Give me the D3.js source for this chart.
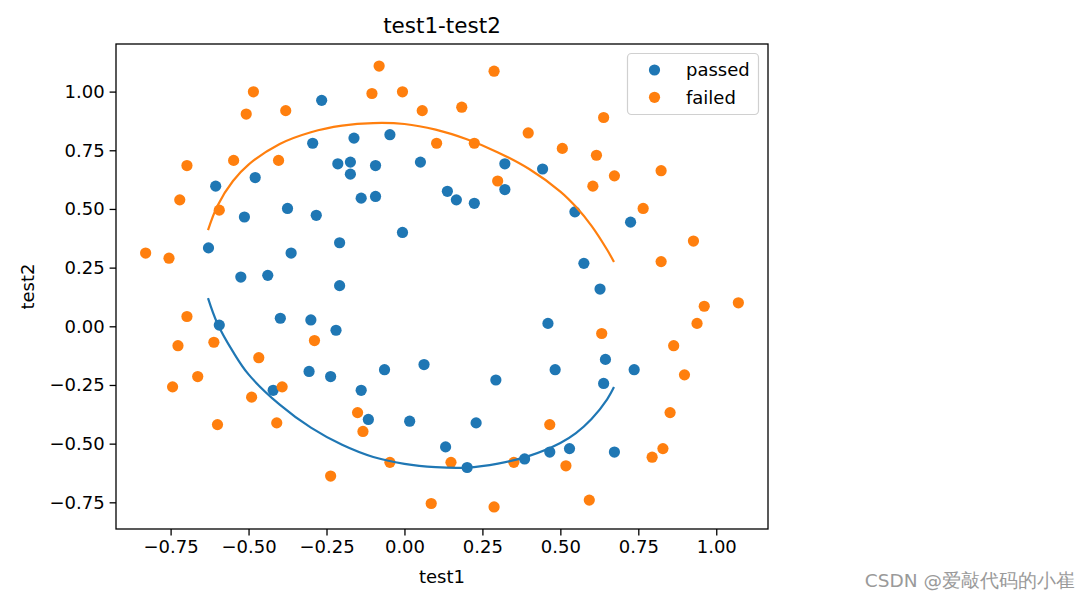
<!DOCTYPE html>
<html>
<head>
<meta charset="utf-8">
<script src="https://cdn.jsdelivr.net/npm/d3@7"></script>
<style>
  html, body { margin: 0; padding: 0; background: #fff; }
  svg { display: block; }
  text { font-family: "DejaVu Sans", sans-serif; }
</style>
</head>
<body>
<div id="chart"></div>
<script>
// ---- data (test1, test2 scores) ----
const passedX = [0.051267,-0.092742,-0.21371,-0.375,-0.51325,-0.52477,-0.39804,-0.30588,0.016705,0.13191,0.38537,0.52938,0.63882,0.73675,0.54666,0.322,0.16647,-0.046659,-0.17339,-0.47869,-0.60541,-0.62846,-0.59389,-0.42108,-0.11578,0.20104,0.46601,0.67339,-0.13882,-0.29435,-0.26555,-0.16187,-0.17339,-0.28283,-0.36348,-0.30012,-0.23675,-0.06394,0.062788,0.22984,0.2932,0.48329,0.64459,0.46025,0.6273,0.57546,0.72523,0.22408,0.44297,0.322,0.13767,-0.0063364,-0.092742,-0.20795,-0.20795,-0.43836,-0.21947,-0.13882];
const passedY = [0.69956,0.68494,0.69225,0.50219,0.46564,0.2098,0.034357,-0.19225,-0.40424,-0.51389,-0.56506,-0.5212,-0.24342,-0.18494,0.48757,0.5826,0.53874,0.81652,0.69956,0.63377,0.59722,0.33406,0.005117,-0.27266,-0.39693,-0.60161,-0.53582,-0.53582,0.54605,0.77997,0.96272,0.8019,0.64839,0.47295,0.31213,0.027047,-0.21418,-0.18494,-0.16301,-0.41155,-0.2288,-0.18494,-0.14108,0.012427,0.15863,0.26827,0.44371,0.52412,0.67032,0.69225,0.57529,0.39985,0.55336,0.35599,0.17325,0.21711,-0.016813,-0.27266];
const failedX = [0.18376,0.22408,0.29896,0.50634,0.61578,0.60426,0.76555,0.92684,0.82316,0.96141,0.93836,0.86348,0.89804,0.85196,0.82892,0.79435,0.59274,0.51786,0.46601,0.35081,0.28744,0.085829,0.14919,-0.13306,-0.40956,-0.39228,-0.74366,-0.69758,-0.75518,-0.69758,-0.4038,-0.38076,-0.50749,-0.54781,0.10311,0.057028,-0.10426,-0.081221,0.28744,0.39689,0.63882,0.82316,0.67339,1.0709,-0.046659,-0.23675,-0.15035,-0.49021,-0.46717,-0.28859,-0.61118,-0.66302,-0.59965,-0.72638,-0.83007,-0.72062,-0.59389,-0.48445,-0.0063364,0.63265];
const failedY = [0.93348,0.77997,0.61915,0.75804,0.7288,0.59722,0.50219,0.3633,0.27558,0.085526,0.012427,-0.082602,-0.20687,-0.36769,-0.5212,-0.55775,-0.7405,-0.5943,-0.41886,-0.57968,-0.76974,-0.75512,-0.57968,-0.4481,-0.41155,-0.25804,-0.25804,0.041667,0.2902,0.68494,0.70687,0.91886,0.90424,0.70687,0.77997,0.91886,0.99196,1.1089,1.087,0.82383,0.88962,0.66301,0.64108,0.10015,-0.57968,-0.63816,-0.36769,-0.3019,-0.13377,-0.060673,-0.067982,-0.21418,-0.41886,-0.082602,0.31213,0.53874,0.49488,0.99927,0.99927,-0.030612];

// boundary curves
const curveX = [-0.63,-0.6,-0.55,-0.5,-0.4,-0.3,-0.2,-0.1,0,0.1,0.2,0.3,0.4,0.5,0.55,0.6,0.65,0.672];
const upperY = [0.410,0.513,0.619,0.689,0.777,0.827,0.855,0.866,0.862,0.838,0.797,0.741,0.670,0.574,0.509,0.428,0.326,0.274];
const lowerY = [0.120,0.012,-0.108,-0.205,-0.334,-0.432,-0.505,-0.557,-0.586,-0.600,-0.602,-0.585,-0.552,-0.497,-0.455,-0.395,-0.311,-0.259];

const xTicks = [-0.75,-0.50,-0.25,0.00,0.25,0.50,0.75,1.00];
const yTicks = [-0.75,-0.50,-0.25,0.00,0.25,0.50,0.75,1.00];
const legendLabels = ["passed","failed"];
const titleText = "test1-test2";
const xLabel = "test1";
const yLabel = "test2";
const watermark = "CSDN @爱敲代码的小崔";

// ---- layout ----
const W = 1090, H = 599;
const L = 116, R = 768, T = 44, B = 529;
const C_PASS = "#1f77b4", C_FAIL = "#ff7f0e";

const allX = passedX.concat(failedX), allY = passedY.concat(failedY);
const [x0, x1] = d3.extent(allX), [y0, y1] = d3.extent(allY);
const px = 0.05 * (x1 - x0), py = 0.05 * (y1 - y0);
const x = d3.scaleLinear().domain([x0 - px, x1 + px]).range([L, R]);
const y = d3.scaleLinear().domain([y0 - py, y1 + py]).range([B, T]);

const svg = d3.select("#chart").append("svg").attr("width", W).attr("height", H);
svg.append("rect").attr("width", W).attr("height", H).attr("fill", "#fff");

const fmt = v => d3.format(".2f")(v).replace("-", "\u2212");

// axes
const gx = svg.append("g").attr("transform", `translate(0,${B})`)
  .call(d3.axisBottom(x).tickValues(xTicks).tickFormat(fmt).tickSize(6.4).tickPadding(5).tickSizeOuter(0));
const gy = svg.append("g").attr("transform", `translate(${L},0)`)
  .call(d3.axisLeft(y).tickValues(yTicks).tickFormat(fmt).tickSize(6.4).tickPadding(5).tickSizeOuter(0));
[gx, gy].forEach(g => {
  g.select(".domain").remove();
  g.selectAll(".tick line").attr("stroke", "#000").attr("stroke-width", 1.3);
  g.selectAll(".tick text").attr("fill", "#000").attr("font-size", 18).attr("font-family", "DejaVu Sans");
});

// clip
svg.append("clipPath").attr("id", "clip").append("rect")
  .attr("x", L).attr("y", T).attr("width", R - L).attr("height", B - T);
const plot = svg.append("g").attr("clip-path", "url(#clip)");

// scatter
const passed = passedX.map((v, i) => [v, passedY[i]]);
const failed = failedX.map((v, i) => [v, failedY[i]]);
plot.append("g").selectAll("circle").data(passed).join("circle")
  .attr("cx", d => x(d[0])).attr("cy", d => y(d[1])).attr("r", 5.6).attr("fill", C_PASS);
plot.append("g").selectAll("circle").data(failed).join("circle")
  .attr("cx", d => x(d[0])).attr("cy", d => y(d[1])).attr("r", 5.6).attr("fill", C_FAIL);

// curves
const line = d3.line().x(d => x(d[0])).y(d => y(d[1])).curve(d3.curveCatmullRom);
plot.append("path").datum(curveX.map((v, i) => [v, upperY[i]]))
  .attr("d", line).attr("fill", "none").attr("stroke", C_FAIL).attr("stroke-width", 2.2);
plot.append("path").datum(curveX.map((v, i) => [v, lowerY[i]]))
  .attr("d", line).attr("fill", "none").attr("stroke", C_PASS).attr("stroke-width", 2.2);

// frame
svg.append("rect").attr("x", L).attr("y", T).attr("width", R - L).attr("height", B - T)
  .attr("fill", "none").attr("stroke", "#000").attr("stroke-width", 1.3);

// title & labels
svg.append("text").attr("x", (L + R) / 2).attr("y", 33).attr("text-anchor", "middle")
  .attr("font-size", 21.5).attr("fill", "#000").text(titleText);
svg.append("text").attr("x", (L + R) / 2).attr("y", 583).attr("text-anchor", "middle")
  .attr("font-size", 18).attr("fill", "#000").text(xLabel);
svg.append("text").attr("transform", `translate(34,${(T + B) / 2}) rotate(-90)`)
  .attr("text-anchor", "middle").attr("font-size", 18).attr("fill", "#000").text(yLabel);

// legend
const lg = svg.append("g");
lg.append("rect").attr("x", 627.5).attr("y", 53.5).attr("width", 131).attr("height", 61)
  .attr("rx", 4).attr("fill", "#fff").attr("fill-opacity", 0.8).attr("stroke", "#d0d0d0").attr("stroke-width", 1.2);
[C_PASS, C_FAIL].forEach((c, i) => {
  const cy = 70 + i * 27.3;
  lg.append("circle").attr("cx", 654.5).attr("cy", cy).attr("r", 5.6).attr("fill", c);
  lg.append("text").attr("x", 686).attr("y", cy).attr("dy", "0.35em")
    .attr("font-size", 18).attr("fill", "#000").text(legendLabels[i]);
});

// watermark
svg.append("text").attr("x", 1075).attr("y", 587).attr("text-anchor", "end")
  .attr("font-family", "Noto Sans CJK SC, sans-serif").attr("font-size", 18.5)
  .attr("fill", "#9a9a9a").text(watermark);
</script>
</body>
</html>
